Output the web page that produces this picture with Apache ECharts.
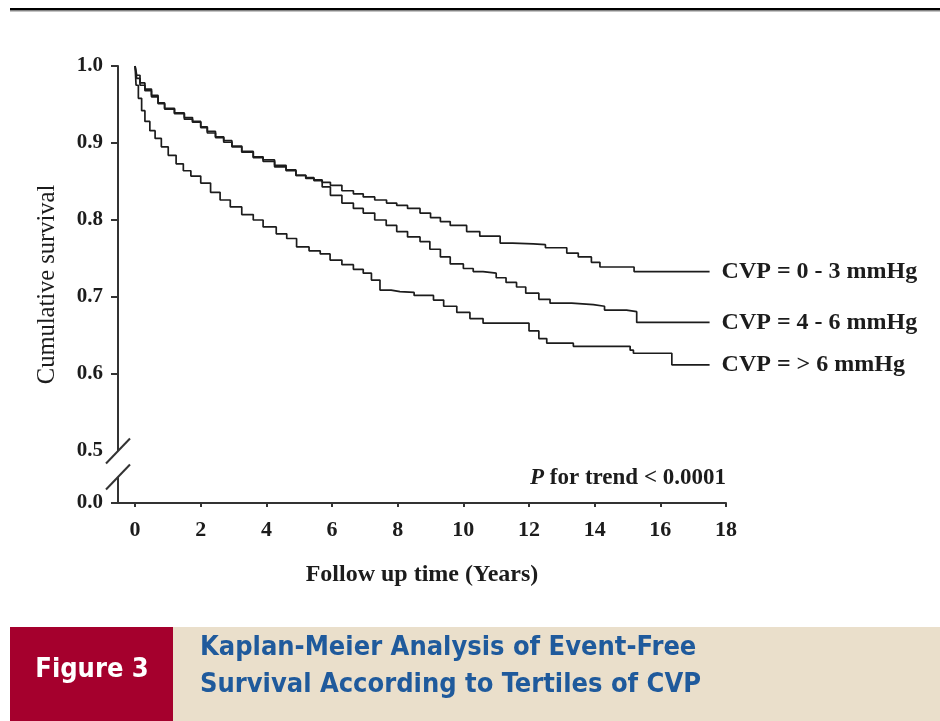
<!DOCTYPE html>
<html>
<head>
<meta charset="utf-8">
<script src="https://cdn.jsdelivr.net/npm/echarts@6/dist/echarts.min.js"></script>
<style>
  html, body { margin: 0; padding: 0; background: #ffffff; }
  #chart { width: 940px; height: 721px; }
</style>
</head>
<body>
<div id="chart"></div>
<script>
// Kaplan-Meier event-free survival by CVP tertile (follow-up in years)
const seriesNames = ['CVP = 0 - 3 mmHg', 'CVP = 4 - 6 mmHg', 'CVP = > 6 mmHg'];

const timeLow = [0, 0.05, 0.15, 0.3, 0.5, 0.7, 0.9, 1.2, 1.5, 1.75, 2.0, 2.2, 2.45, 2.7, 2.95, 3.25, 3.6, 3.9, 4.25, 4.6, 4.9, 5.2, 5.45,
  5.7, 5.95, 6.3, 6.65, 6.95, 7.3, 7.66, 7.97, 8.3, 8.68, 9.0, 9.3, 9.6, 10.1, 10.5, 11.12, 11.5, 12.13, 12.5, 13.15, 13.5, 13.9, 14.16, 15.2, 17.5];
const survLow = [1.0, 0.988, 0.978, 0.970, 0.962, 0.952, 0.945, 0.939, 0.933, 0.928, 0.921, 0.915, 0.908, 0.903, 0.896, 0.889, 0.882, 0.878, 0.871, 0.865, 0.858, 0.855, 0.852,
  0.849, 0.845, 0.838, 0.834, 0.830, 0.826, 0.822, 0.819, 0.815, 0.809, 0.803, 0.798, 0.793, 0.785, 0.779, 0.770, 0.769, 0.768, 0.764, 0.757, 0.752, 0.745, 0.739, 0.733, 0.733];

const timeMid = [0, 0.05, 0.15, 0.3, 0.5, 0.7, 0.9, 1.2, 1.5, 1.75, 2.0, 2.2, 2.45, 2.7, 2.95, 3.25, 3.6, 3.9, 4.25, 4.6, 4.9, 5.2, 5.45,
  5.7, 5.95, 6.3, 6.65, 6.95, 7.3, 7.65, 7.97, 8.3, 8.68, 8.98, 9.3, 9.6, 10.0, 10.3, 10.6, 11.0, 11.3, 11.62, 11.9, 12.3, 12.64, 13.3, 13.96, 14.3, 14.97, 15.28, 17.5];
const survMid = [1.0, 0.984, 0.975, 0.968, 0.960, 0.951, 0.944, 0.938, 0.931, 0.927, 0.920, 0.913, 0.907, 0.901, 0.895, 0.888, 0.881, 0.876, 0.869, 0.864, 0.858, 0.854, 0.851,
  0.843, 0.832, 0.822, 0.815, 0.809, 0.800, 0.793, 0.785, 0.778, 0.772, 0.762, 0.752, 0.743, 0.737, 0.733, 0.731, 0.725, 0.719, 0.713, 0.705, 0.697, 0.692, 0.690, 0.688, 0.683, 0.681, 0.667, 0.667];

const timeHigh = [0, 0.03, 0.1, 0.2, 0.3, 0.45, 0.61, 0.8, 1.01, 1.25, 1.47, 1.7, 2.0, 2.3, 2.59, 2.9, 3.25, 3.6, 3.9, 4.3, 4.62, 4.92, 5.3, 5.64, 5.94,
  6.3, 6.65, 6.95, 7.2, 7.46, 7.8, 8.07, 8.5, 9.09, 9.4, 9.8, 10.2, 10.6, 11.73, 12.0, 12.3, 12.54, 13.35, 15.08, 15.18, 16.35, 17.5];
const survHigh = [1.0, 0.975, 0.958, 0.942, 0.928, 0.916, 0.906, 0.895, 0.884, 0.873, 0.864, 0.857, 0.848, 0.836, 0.826, 0.817, 0.807, 0.800, 0.791, 0.782, 0.776, 0.765, 0.760, 0.756, 0.748,
  0.742, 0.736, 0.731, 0.722, 0.709, 0.707, 0.706, 0.702, 0.696, 0.688, 0.680, 0.672, 0.666, 0.666, 0.656, 0.646, 0.640, 0.636, 0.631, 0.627, 0.612, 0.612];

const xTicks = [0, 2, 4, 6, 8, 10, 12, 14, 16, 18];
const yFloor = 0.4325;              // broken-axis floor, labelled 0.0
const yTickValues = [yFloor, 0.5, 0.6, 0.7, 0.8, 0.9, 1.0];
const yTickLabels = ['0.0', '0.5', '0.6', '0.7', '0.8', '0.9', '1.0'];
const pValueText = 'for trend < 0.0001';
const figureTag = 'Figure 3';
const captionLines = ['Kaplan-Meier Analysis of Event-Free', 'Survival According to Tertiles of CVP'];

const SERIF = '"Liberation Serif", "Times New Roman", serif';
const NARROW = '"Liberation Sans Narrow", "DejaVu Sans Condensed", "Arial Narrow", sans-serif';
const INK = '#1c1c1c';
const AXIS = '#333333';

function zip(t, s) { return t.map((v, i) => [v, s[i]]); }

const chart = echarts.init(document.getElementById('chart'), null, { renderer: 'canvas' });

const curves = [zip(timeLow, survLow), zip(timeMid, survMid), zip(timeHigh, survHigh)];

chart.setOption({
  animation: false,
  backgroundColor: '#ffffff',
  grid: { left: 118, right: 214, top: 66, bottom: 218, containLabel: false },
  xAxis: {
    type: 'value', min: -0.52, max: 18,
    name: 'Follow up time (Years)', nameLocation: 'middle', nameGap: 60,
    nameTextStyle: { fontFamily: SERIF, fontWeight: 'bold', fontSize: 24, color: INK },
    axisLine: { show: true, onZero: false, lineStyle: { color: AXIS, width: 2 } },
    axisTick: { show: true, length: 4, inside: false, customValues: xTicks, lineStyle: { color: AXIS, width: 2 } },
    axisLabel: { customValues: xTicks, margin: 16, fontFamily: SERIF, fontWeight: 'bold', fontSize: 22, color: INK },
    splitLine: { show: false }
  },
  yAxis: {
    type: 'value', min: yFloor, max: 1.0,
    name: 'Cumulative survival', nameLocation: 'middle', nameGap: 58,
    nameTextStyle: { fontFamily: SERIF, fontSize: 24.5, color: INK },
    axisLine: { show: true, onZero: false, lineStyle: { color: AXIS, width: 2 } },
    axisTick: { show: false },
    axisLabel: {
      customValues: yTickValues, margin: 15,
      fontFamily: SERIF, fontWeight: 'bold', fontSize: 21, color: INK,
      formatter: v => yTickLabels[yTickValues.findIndex(t => Math.abs(t - v) < 1e-6)]
    },
    splitLine: { show: false }
  },
  series: curves.map((d, i) => ({
    name: seriesNames[i],
    type: 'line',
    step: 'end',
    data: d,
    symbol: 'none',
    lineStyle: { color: INK, width: 1.7 },
    endLabel: {
      show: true, distance: 12, formatter: '{a}',
      fontFamily: SERIF, fontWeight: 'bold', fontSize: 24, color: INK
    }
  }))
});

// Decorations: y ticks, broken y-axis, p-value note, top rule and caption band
const yHalfPx = chart.convertToPixel({ yAxisIndex: 0 }, 0.5);
const axisX = chart.convertToPixel({ xAxisIndex: 0 }, -0.52);
const axisRight = chart.convertToPixel({ xAxisIndex: 0 }, 18);
const gapEnd = yHalfPx + 26;
const slash = (cy) => ({
  type: 'line', z: 20, shape: { x1: axisX - 12, y1: cy + 12.5, x2: axisX + 12, y2: cy - 12.5 },
  style: { stroke: AXIS, lineWidth: 2 }
});
const yTickMarks = yTickValues.filter(v => v !== 0.5).map(v => {
  const py = Number(chart.convertToPixel({ yAxisIndex: 0 }, v));
  return { type: 'rect', z: 20, shape: { x: axisX - 7, y: py - 1, width: 7, height: 2 }, style: { fill: AXIS } };
});

chart.setOption({
  graphic: [
    { type: 'rect', shape: { x: 10, y: 8, width: 930, height: 2.5 }, style: { fill: '#000' } },
    { type: 'rect', shape: { x: 10, y: 10.5, width: 930, height: 1 }, style: { fill: '#8a8a8a' } },
    // gap in the y-axis line between the two break marks
    { type: 'rect', z: 10, shape: { x: axisX - 3, y: yHalfPx, width: 6, height: gapEnd - yHalfPx }, style: { fill: '#ffffff' } },
    slash(yHalfPx), slash(gapEnd)
  ].concat(yTickMarks, [
    {
      type: 'text', x: axisRight, y: 478,
      style: {
        text: '{i|P} ' + pValueText, align: 'right', verticalAlign: 'middle',
        fontFamily: SERIF, fontWeight: 'bold', fontSize: 23, fill: INK,
        rich: { i: { fontFamily: SERIF, fontStyle: 'italic', fontWeight: 'bold', fontSize: 23, fill: INK } }
      }
    },
    { type: 'rect', shape: { x: 10, y: 627, width: 163, height: 94 }, style: { fill: '#a5002d' } },
    { type: 'rect', shape: { x: 173, y: 627, width: 767, height: 94 }, style: { fill: '#eadfcb' } },
    {
      type: 'text', x: 92, y: 670,
      style: { text: figureTag, align: 'center', verticalAlign: 'middle', fontFamily: NARROW, fontWeight: 'bold', fontSize: 27, fill: '#ffffff' }
    },
    {
      type: 'text', x: 200, y: 648,
      style: { text: captionLines[0], align: 'left', verticalAlign: 'middle', fontFamily: NARROW, fontWeight: 'bold', fontSize: 27, fill: '#1f5a9c' }
    },
    {
      type: 'text', x: 200, y: 685,
      style: { text: captionLines[1], align: 'left', verticalAlign: 'middle', fontFamily: NARROW, fontWeight: 'bold', fontSize: 27, fill: '#1f5a9c' }
    }
  ])
});
</script>
</body>
</html>
